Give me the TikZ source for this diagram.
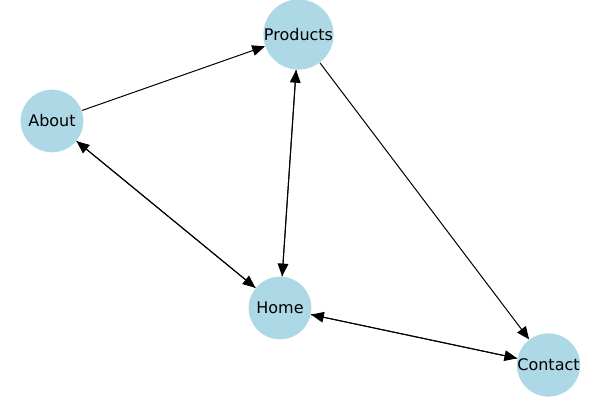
\documentclass[tikz,border=0pt]{standalone}
\usepackage{fontspec}
\setmainfont{DejaVu Sans}
\usepackage{tikz}
\usetikzlibrary{arrows.meta}
\usepackage{xcolor}
\definecolor{nodeblue}{HTML}{ADD8E6}

\begin{document}
\begin{tikzpicture}[x=0.75pt,y=-0.75pt,>={Triangle[length=9.5pt,width=8pt]},
    line width=0.75pt]
  \tikzstyle{page}=[circle,fill=nodeblue,minimum size=47pt,inner sep=0pt,
    font=\fontsize{12}{14}\selectfont]
  \useasboundingbox (0,0) rectangle (600,400);

  \node[page] (products) at (298.5,34.5) {Products};
  \node[page] (about)    at (52,121)     {About};
  \node[page] (home)     at (280,308)    {Home};
  \node[page] (contact)  at (548.5,365)  {Contact};

  \path[->]
  (about)    edge (products)
  (products) edge (home)
  (home)     edge (products)
  (about)    edge (home)
  (home)     edge (about)
  (products) edge (contact)
  (home)     edge (contact)
  (contact)  edge (home)
  ;
\end{tikzpicture}
\end{document}
